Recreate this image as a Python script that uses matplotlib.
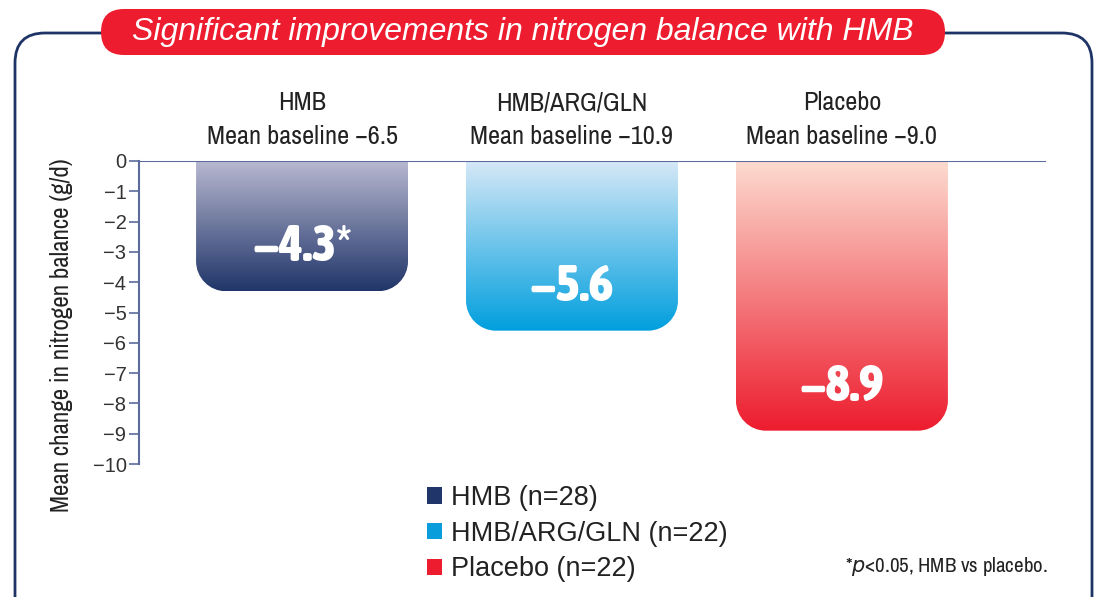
import numpy as np
import matplotlib
matplotlib.use('Agg')
from matplotlib import pyplot as plt
from matplotlib.path import Path
from matplotlib.patches import PathPatch, FancyBboxPatch, Patch
from matplotlib.colors import LinearSegmentedColormap
from matplotlib import font_manager
from matplotlib.font_manager import FontProperties

# data
groups = ['HMB', 'HMB/ARG/GLN', 'Placebo']
baselines = ['\u22126.5', '\u221210.9', '\u22129.0']
changes = [-4.3, -5.6, -8.9]
value_labels = ['\u22124.3*', '\u22125.6', '\u22128.9']
legend_labels = ['HMB (n=28)', 'HMB/ARG/GLN (n=22)', 'Placebo (n=22)']
yticks = list(range(0, -11, -1))

top_colors = ['#b9b9d1', '#d6e8f7', '#fcdbcf']
bottom_colors = ['#203569', '#009fde', '#ed1c2e']
solid_colors = ['#203569', '#0a9ddb', '#ed1c2e']

# condensed faces: prefer a family named Narrow/Condensed, then DejaVu Sans Condensed
fonts = [f for f in font_manager.fontManager.ttflist if f.style == 'normal']
named = [f for f in fonts if 'Narrow' in f.name or 'Condensed' in f.name]
djv = [f for f in fonts if f.name == 'DejaVu Sans' and 'Condensed' in f.fname]

def wnum(f):
    w = f.weight
    if isinstance(w, str):
        w = {'normal': 400, 'regular': 400, 'bold': 700, 'light': 300}.get(w, 400)
    return w

def pick(cands, lo, hi):
    for f in cands:
        if lo <= wnum(f) <= hi:
            return FontProperties(fname=f.fname)
    return None

cond = pick(named, 350, 450) or pick(djv, 350, 450) or FontProperties(family='DejaVu Sans')
narrow_bold = pick(named, 650, 900)
if narrow_bold is not None:
    cond_bold, big = narrow_bold, 37
else:
    cond_bold, big = (pick(djv, 650, 900) or FontProperties(family='DejaVu Sans', weight='bold')), 30
ylab_size = 18 if pick(named, 350, 450) is not None else 16

def fp(base, size):
    p = base.copy()
    p.set_size(size)
    return p

helv = dict(family='Liberation Sans')

fig = plt.figure(figsize=(10.98, 5.97), dpi=100)
W, H = 1098, 597

# background layer in pixel units for the frame and the title pill
bg = fig.add_axes([0, 0, 1, 1], zorder=-1)
bg.set_xlim(0, W)
bg.set_ylim(H, 0)
bg.axis('off')
bg.add_patch(FancyBboxPatch((15, 33), 1077, 700,
                            boxstyle='round,pad=0,rounding_size=30',
                            fill=False, edgecolor='#1f3466', linewidth=2))
bg.add_patch(FancyBboxPatch((101, 9), 844, 46,
                            boxstyle='round,pad=0,rounding_size=23',
                            facecolor='#ed1c2e', edgecolor='none'))
bg.text(523, 32, 'Significant improvements in nitrogen balance with HMB',
        color='white', fontsize=23, style='italic', ha='center', va='center', **helv)

ax = fig.add_axes([139 / W, 1 - 464 / H, 907 / W, 303 / H])
x = np.arange(len(groups))
width = 212 / 270
rx = 30 / 270
ry = 30 / 30.3
k = 0.5523

for i, v in enumerate(changes):
    x0 = x[i] - width / 2
    x1 = x[i] + width / 2
    verts = [(x0, 0), (x0, v + ry),
             (x0, v + ry * (1 - k)), (x0 + rx * (1 - k), v), (x0 + rx, v),
             (x1 - rx, v),
             (x1 - rx * (1 - k), v), (x1, v + ry * (1 - k)), (x1, v + ry),
             (x1, 0), (x0, 0)]
    codes = [Path.MOVETO, Path.LINETO,
             Path.CURVE4, Path.CURVE4, Path.CURVE4,
             Path.LINETO,
             Path.CURVE4, Path.CURVE4, Path.CURVE4,
             Path.LINETO, Path.CLOSEPOLY]
    patch = PathPatch(Path(verts, codes), facecolor='none', edgecolor='none')
    ax.add_patch(patch)
    cmap = LinearSegmentedColormap.from_list('g%d' % i, [top_colors[i], bottom_colors[i]])
    grad = np.linspace(0, 1, 256).reshape(-1, 1)
    im = ax.imshow(grad, cmap=cmap, extent=[x0, x1, v, 0], origin='upper',
                   aspect='auto', interpolation='bicubic')
    im.set_clip_path(patch)
    ax.text(x[i], v + 1.45, value_labels[i], color='white', ha='center', va='center',
            fontproperties=fp(cond_bold, big))
    ax.text(x[i], 1.93, groups[i], ha='center', va='center', color='#222222',
            fontproperties=fp(cond, 19))
    ax.text(x[i], 0.8, 'Mean baseline ' + baselines[i], ha='center', va='center',
            color='#222222', fontproperties=fp(cond, 19))

ax.set_xlim(-0.604, 2.756)
ax.set_ylim(-10, 0)
ax.axhline(0, color='#5b6b9b', linewidth=1.5, zorder=5)
for s in ['top', 'right', 'bottom']:
    ax.spines[s].set_visible(False)
ax.spines['left'].set_color('#5b6b9b')
ax.spines['left'].set_linewidth(1.5)
ax.set_xticks([])
ax.set_yticks(yticks)
ax.set_yticklabels(['0'] + ['\u2212%d' % (-t) for t in yticks[1:]], **helv)
ax.tick_params(axis='y', length=7, width=1.2, color='#5b6b9b', labelsize=14.5,
               labelcolor='#333333', pad=2)

fig.text(62 / W, 1 - 335 / H, 'Mean change in nitrogen balance (g/d)', rotation=90,
         ha='center', va='center', color='#222222', fontproperties=fp(cond, ylab_size))

handles = [Patch(facecolor=c, edgecolor='none') for c in solid_colors]
fig.legend(handles, legend_labels, loc='upper left', bbox_to_anchor=(427 / W, 1 - 485 / H),
           frameon=False, handlelength=0.55, handleheight=0.55,
           handletextpad=0.35, labelspacing=0.36, borderaxespad=0, borderpad=0,
           labelcolor='#222222', prop=dict(size=19.5, **helv))

fig.text(845 / W, 1 - 567 / H, '*$\\it{p}$<0.05, HMB vs placebo.',
         ha='left', va='center', color='#222222', fontproperties=fp(cond, 15))

fig.savefig('out.png', dpi=100)
